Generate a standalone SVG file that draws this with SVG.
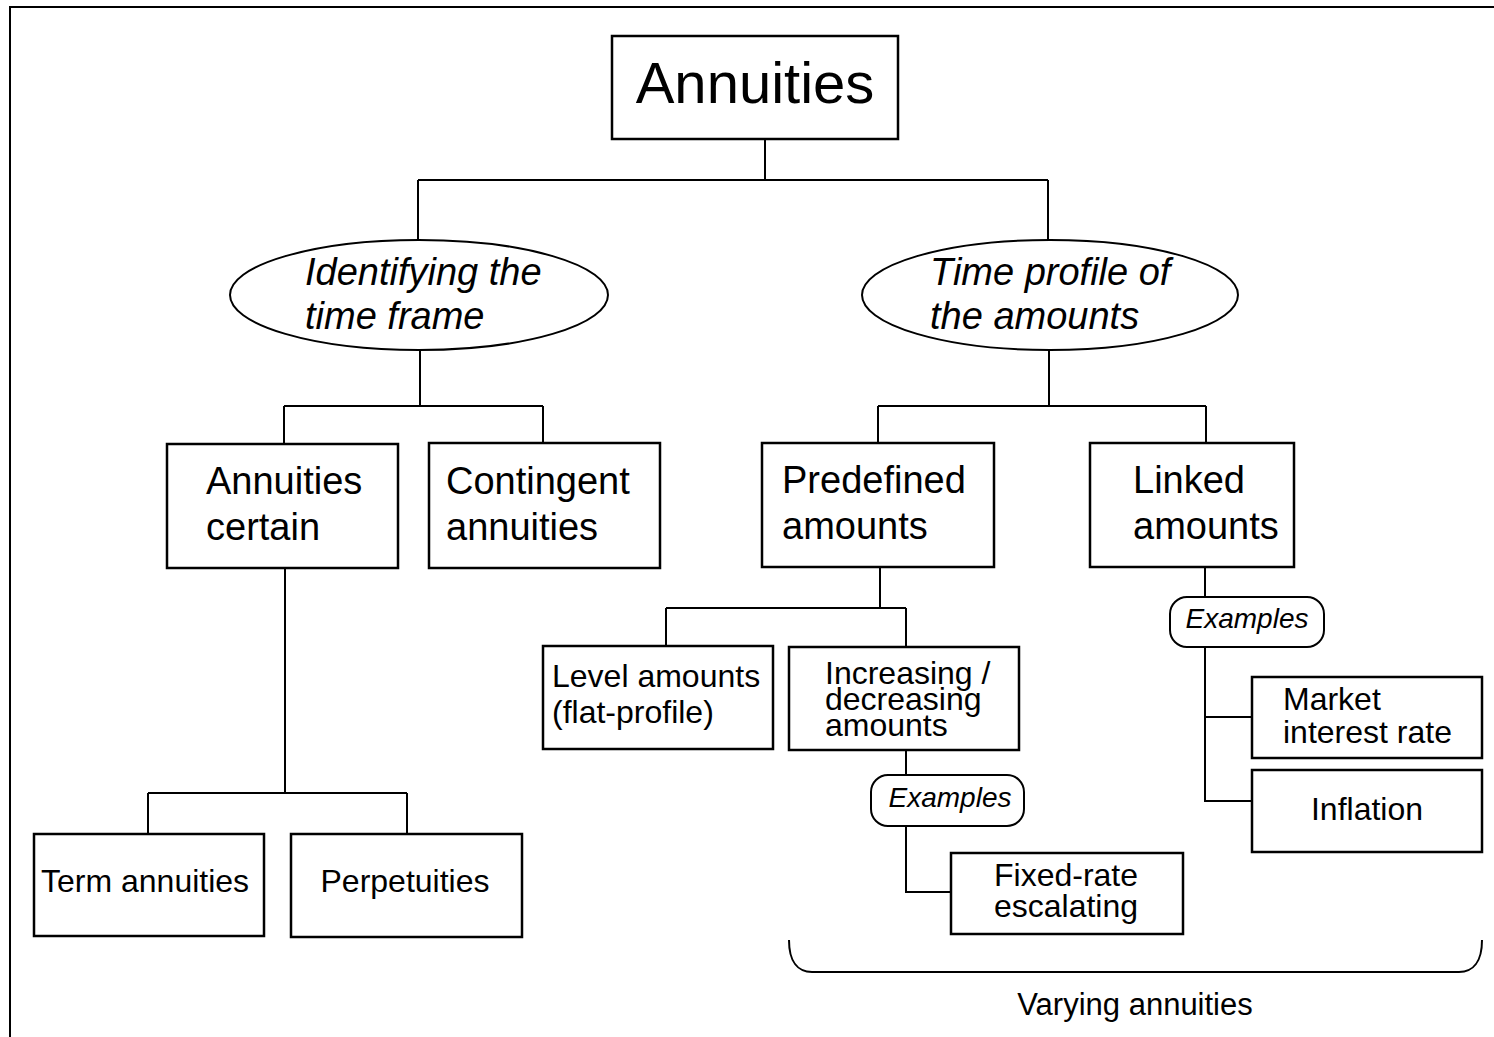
<svg xmlns="http://www.w3.org/2000/svg" width="1494" height="1037" viewBox="0 0 1494 1037">
<style>
.box{fill:#fff;stroke:#000;stroke-width:2.5}
.pill{fill:#fff;stroke:#000;stroke-width:2}
.conn{fill:none;stroke:#000;stroke-width:2}
text{font-family:"Liberation Sans",Arial,Helvetica,sans-serif;fill:#000}
.t1{font-size:58px}
.t2{font-size:38px}
.t2i{font-size:38px;font-style:italic}
.t3{font-size:32px}
.ex{font-size:28px;font-style:italic}
.mid{text-anchor:middle}
</style>
<rect width="1494" height="1037" fill="#fff"/>
<path d="M10,1037 V7 H1494" class="conn"/>
<g id="connectors">
<path class="conn" d="M765,139 V180 M418,180 H1048 M418,180 V240 M1048,180 V240"/>
<path class="conn" d="M420,350 V406 M284,406 H543 M284,406 V444 M543,406 V443"/>
<path class="conn" d="M1049,350 V406 M878,406 H1206 M878,406 V443 M1206,406 V443"/>
<path class="conn" d="M285,568 V793 M148,793 H407 M148,793 V833 M407,793 V833"/>
<path class="conn" d="M880,567 V608 M666,608 H906 M666,608 V646 M906,608 V647"/>
<path class="conn" d="M906,750 V775 M906,826 V892 H951"/>
<path class="conn" d="M1205,567 V597 M1205,647 V801 H1252 M1205,717 H1252"/>
<path class="conn" d="M789,940 C789,962 798,972 812,972 H1459 C1473,972 1482,962 1482,940"/>
</g>
<g id="annuities"><rect class="box" x="612" y="36" width="286" height="103"/><text class="t1 mid" x="755" y="103">Annuities</text></g>
<g id="time-frame"><ellipse class="conn" cx="419" cy="295" rx="189" ry="55"/><text class="t2i" x="305" y="285">Identifying the</text><text class="t2i" x="305" y="329">time frame</text></g>
<g id="time-profile"><ellipse class="conn" cx="1050" cy="295" rx="188" ry="55"/><text class="t2i" x="930" y="285">Time profile of</text><text class="t2i" x="930" y="329">the amounts</text></g>
<g id="annuities-certain"><rect class="box" x="167" y="444" width="231" height="124"/><text class="t2" x="206" y="494">Annuities</text><text class="t2" x="206" y="540">certain</text></g>
<g id="contingent"><rect class="box" x="429" y="443" width="231" height="125"/><text class="t2" x="446" y="494">Contingent</text><text class="t2" x="446" y="540">annuities</text></g>
<g id="predefined"><rect class="box" x="762" y="443" width="232" height="124"/><text class="t2" x="782" y="493">Predefined</text><text class="t2" x="782" y="539">amounts</text></g>
<g id="linked"><rect class="box" x="1090" y="443" width="204" height="124"/><text class="t2" x="1133" y="493">Linked</text><text class="t2" x="1133" y="539">amounts</text></g>
<g id="term"><rect class="box" x="34" y="834" width="230" height="102"/><text class="t3" x="41" y="892">Term annuities</text></g>
<g id="perpetuities"><rect class="box" x="291" y="834" width="231" height="103"/><text class="t3 mid" x="405" y="892">Perpetuities</text></g>
<g id="level"><rect class="box" x="543" y="646" width="230" height="103"/><text class="t3" x="552" y="687">Level amounts</text><text class="t3" x="552" y="723">(flat-profile)</text></g>
<g id="increasing"><rect class="box" x="789" y="647" width="230" height="103"/><text class="t3" x="825" y="684">Increasing /</text><text class="t3" x="825" y="710">decreasing</text><text class="t3" x="825" y="736">amounts</text></g>
<g id="examples-1"><rect class="pill" x="871" y="775" width="153" height="51" rx="17"/><text class="ex mid" x="950" y="807">Examples</text></g>
<g id="fixed-rate"><rect class="box" x="951" y="853" width="232" height="81"/><text class="t3 mid" x="1066" y="886">Fixed-rate</text><text class="t3 mid" x="1066" y="917">escalating</text></g>
<g id="examples-2"><rect class="pill" x="1170" y="597" width="154" height="50" rx="17"/><text class="ex mid" x="1247" y="628">Examples</text></g>
<g id="market"><rect class="box" x="1252" y="677" width="230" height="81"/><text class="t3" x="1283" y="710">Market</text><text class="t3" x="1283" y="743">interest rate</text></g>
<g id="inflation"><rect class="box" x="1252" y="770" width="230" height="82"/><text class="t3 mid" x="1367" y="820">Inflation</text></g>
<g id="varying"><text class="t3 mid" x="1135" y="1015" style="font-size:31px">Varying annuities</text></g>
</svg>
